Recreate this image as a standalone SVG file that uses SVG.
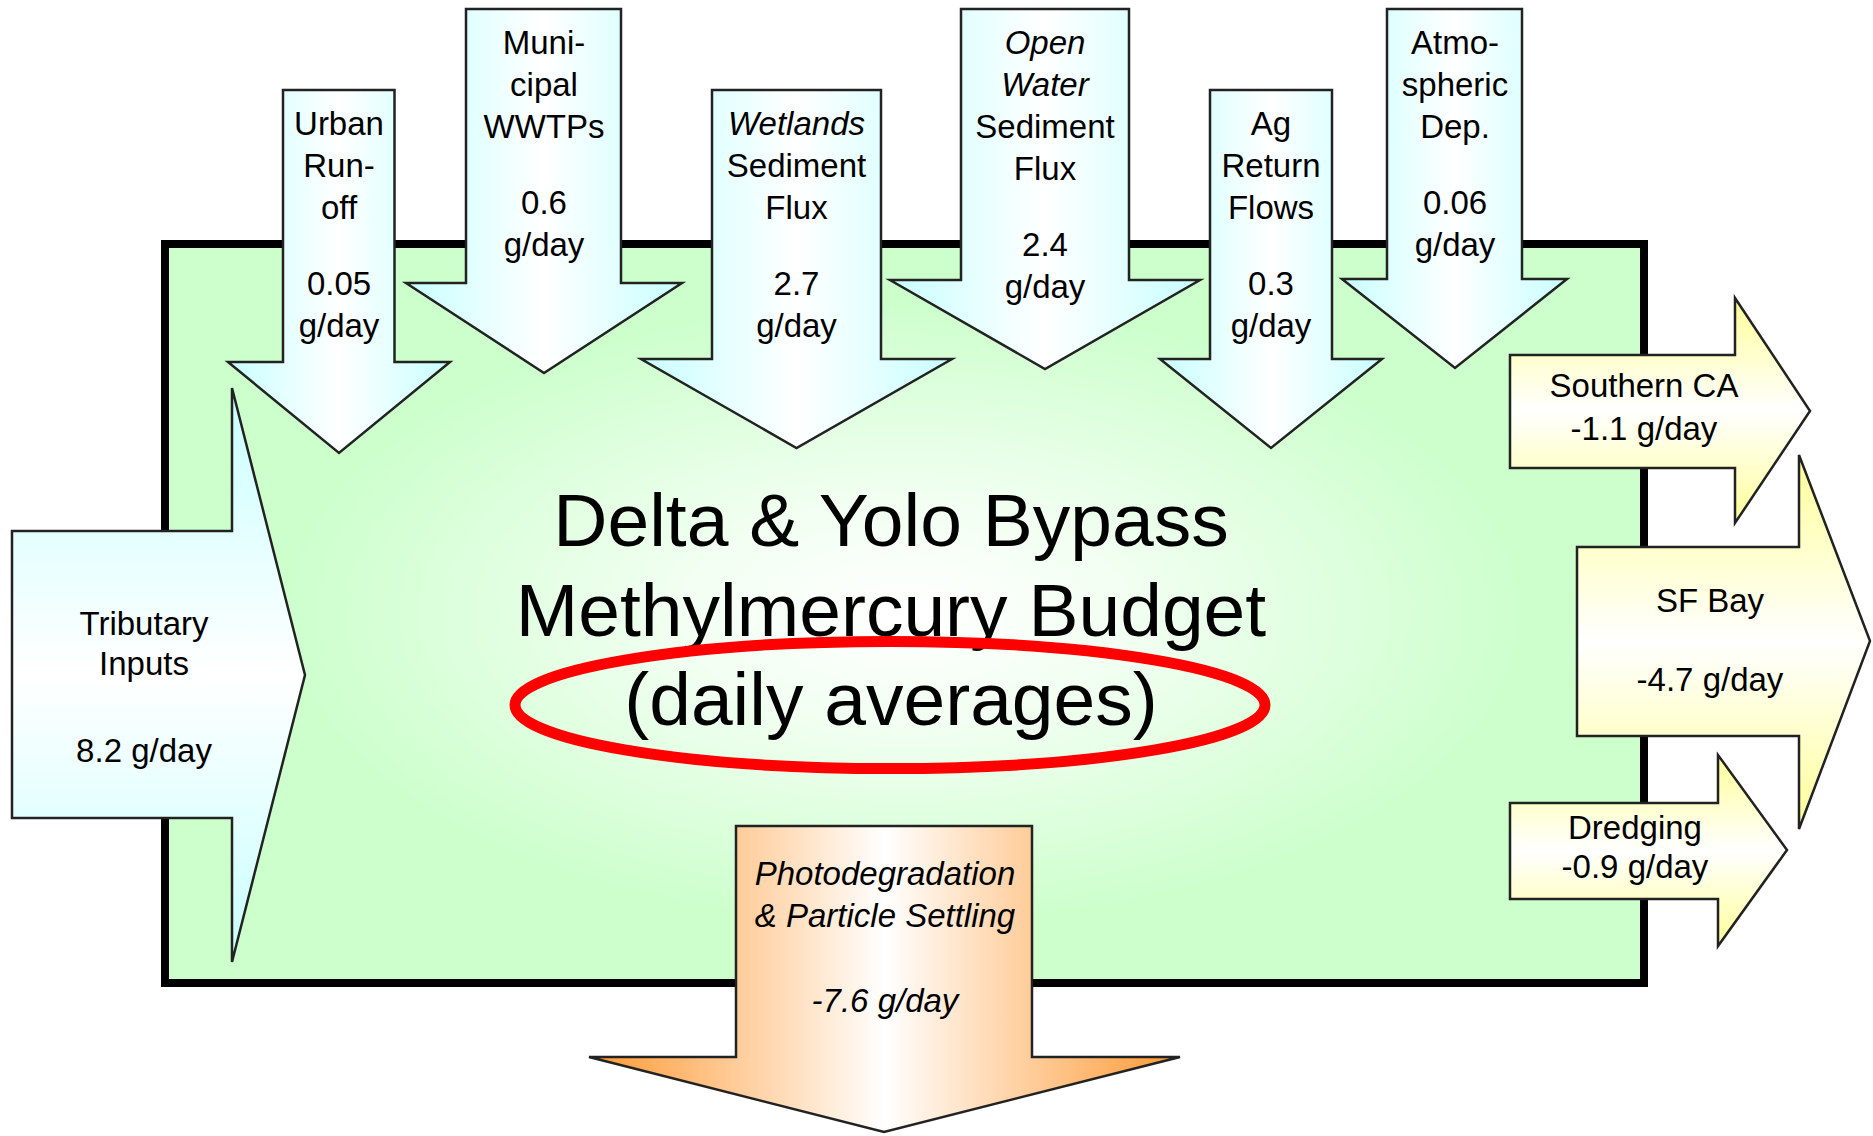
<svg xmlns="http://www.w3.org/2000/svg" width="1873" height="1136" viewBox="0 0 1873 1136">
  <defs>
    <radialGradient id="gBox" cx="0.5" cy="0.5" r="0.5">
      <stop offset="0" stop-color="#ffffff"/>
      <stop offset="0.3" stop-color="#f2fff2"/>
      <stop offset="0.85" stop-color="#ccffcc"/>
    </radialGradient>
    <linearGradient id="gCyanH" x1="0" y1="0" x2="1" y2="0">
      <stop offset="0" stop-color="#c8ffff"/>
      <stop offset="0.5" stop-color="#ffffff"/>
      <stop offset="1" stop-color="#c8ffff"/>
    </linearGradient>
    <linearGradient id="gCyanV" x1="0" y1="0" x2="0" y2="1">
      <stop offset="0" stop-color="#c8ffff"/>
      <stop offset="0.5" stop-color="#ffffff"/>
      <stop offset="1" stop-color="#c8ffff"/>
    </linearGradient>
    <linearGradient id="gYellowV" x1="0" y1="0" x2="0" y2="1">
      <stop offset="0" stop-color="#ffff99"/>
      <stop offset="0.5" stop-color="#ffffff"/>
      <stop offset="1" stop-color="#ffff99"/>
    </linearGradient>
    <linearGradient id="gOrangeH" x1="0" y1="0" x2="1" y2="0">
      <stop offset="0" stop-color="#ff9933"/>
      <stop offset="0.5" stop-color="#ffffff"/>
      <stop offset="1" stop-color="#ff9933"/>
    </linearGradient>
  </defs>
  <style>
    .arrow { stroke: #222222; stroke-width: 2.5; stroke-linejoin: miter; }
    .down { fill: url(#gCyanH); }
    .lbl { font-family: "Liberation Sans", Arial, sans-serif; font-size: 33px; text-anchor: middle; fill: #000000; }
    .it { font-style: italic; }
    .title { font-family: "Liberation Sans", Arial, sans-serif; font-size: 75px; text-anchor: middle; fill: #000000; }
  </style>

  <g id="delta-box">
    <rect x="165" y="244" width="1479" height="739" fill="url(#gBox)" stroke="#000000" stroke-width="8"/>
    <text class="title" x="891" y="546">Delta &amp; Yolo Bypass</text>
    <text class="title" x="891" y="636">Methylmercury Budget</text>
    <text class="title" x="891" y="725">(daily averages)</text>
    <ellipse cx="890" cy="705" rx="375" ry="63.5" fill="none" stroke="#ff0000" stroke-width="11"/>
  </g>

  <g id="connectors"/>

  <g id="urban-runoff">
    <polygon class="arrow down" points="283,90 394.5,90 394.5,362 450,362 339,453 228,362 283,362"/>
    <text class="lbl" x="339" y="135">Urban</text>
    <text class="lbl" x="339" y="177">Run-</text>
    <text class="lbl" x="339" y="219">off</text>
    <text class="lbl" x="339" y="295">0.05</text>
    <text class="lbl" x="339" y="337">g/day</text>
  </g>

  <g id="municipal-wwtps">
    <polygon class="arrow down" points="466,9 621,9 621,283 682,283 544,373 406,283 466,283"/>
    <text class="lbl" x="544" y="54">Muni-</text>
    <text class="lbl" x="544" y="96">cipal</text>
    <text class="lbl" x="544" y="138">WWTPs</text>
    <text class="lbl" x="544" y="214">0.6</text>
    <text class="lbl" x="544" y="256">g/day</text>
  </g>

  <g id="wetlands-sediment-flux">
    <polygon class="arrow down" points="712,90 881,90 881,359 952,359 796.5,448 641,359 712,359"/>
    <text class="lbl it" x="796.5" y="135">Wetlands</text>
    <text class="lbl" x="796.5" y="177">Sediment</text>
    <text class="lbl" x="796.5" y="219">Flux</text>
    <text class="lbl" x="796.5" y="295">2.7</text>
    <text class="lbl" x="796.5" y="337">g/day</text>
  </g>

  <g id="open-water-sediment-flux">
    <polygon class="arrow down" points="961,9 1129,9 1129,280 1200,280 1045,369 890,280 961,280"/>
    <text class="lbl it" x="1045" y="54">Open</text>
    <text class="lbl it" x="1045" y="96">Water</text>
    <text class="lbl" x="1045" y="138">Sediment</text>
    <text class="lbl" x="1045" y="180">Flux</text>
    <text class="lbl" x="1045" y="256">2.4</text>
    <text class="lbl" x="1045" y="298">g/day</text>
  </g>

  <g id="ag-return-flows">
    <polygon class="arrow down" points="1210,90 1332,90 1332,359 1382,359 1271,448 1160,359 1210,359"/>
    <text class="lbl" x="1271" y="135">Ag</text>
    <text class="lbl" x="1271" y="177">Return</text>
    <text class="lbl" x="1271" y="219">Flows</text>
    <text class="lbl" x="1271" y="295">0.3</text>
    <text class="lbl" x="1271" y="337">g/day</text>
  </g>

  <g id="atmospheric-dep">
    <polygon class="arrow down" points="1387,9 1522,9 1522,279 1567,279 1455,368 1342,279 1387,279"/>
    <text class="lbl" x="1455" y="54">Atmo-</text>
    <text class="lbl" x="1455" y="96">spheric</text>
    <text class="lbl" x="1455" y="138">Dep.</text>
    <text class="lbl" x="1455" y="214">0.06</text>
    <text class="lbl" x="1455" y="256">g/day</text>
  </g>

  <g id="tributary-inputs">
    <polygon class="arrow" fill="url(#gCyanV)" points="12,531 232,531 232,388 305,675 232,962 232,818 12,818"/>
    <text class="lbl" x="144" y="635">Tributary</text>
    <text class="lbl" x="144" y="675">Inputs</text>
    <text class="lbl" x="144" y="762">8.2 g/day</text>
  </g>

  <g id="southern-ca">
    <polygon class="arrow" fill="url(#gYellowV)" points="1510,355 1735,355 1735,298 1810,411 1735,523 1735,468 1510,468"/>
    <text class="lbl" x="1644" y="397">Southern CA</text>
    <text class="lbl" x="1644" y="440">-1.1 g/day</text>
  </g>

  <g id="sf-bay">
    <polygon class="arrow" fill="url(#gYellowV)" points="1577,547 1799,547 1799,455 1870,641 1799,829 1799,736 1577,736"/>
    <text class="lbl" x="1710" y="612">SF Bay</text>
    <text class="lbl" x="1710" y="691">-4.7 g/day</text>
  </g>

  <g id="dredging">
    <polygon class="arrow" fill="url(#gYellowV)" points="1510,803 1718,803 1718,755 1787,850 1718,946 1718,899 1510,899"/>
    <text class="lbl" x="1635" y="839">Dredging</text>
    <text class="lbl" x="1635" y="878">-0.9 g/day</text>
  </g>

  <g id="photodegradation-settling">
    <polygon class="arrow" fill="url(#gOrangeH)" points="736,826 1032,826 1032,1057 1180,1057 884,1132 589,1057 736,1057"/>
    <text class="lbl it" x="885" y="885">Photodegradation</text>
    <text class="lbl it" x="885" y="927">&amp; Particle Settling</text>
    <text class="lbl it" x="885" y="1012">-7.6 g/day</text>
  </g>
</svg>
